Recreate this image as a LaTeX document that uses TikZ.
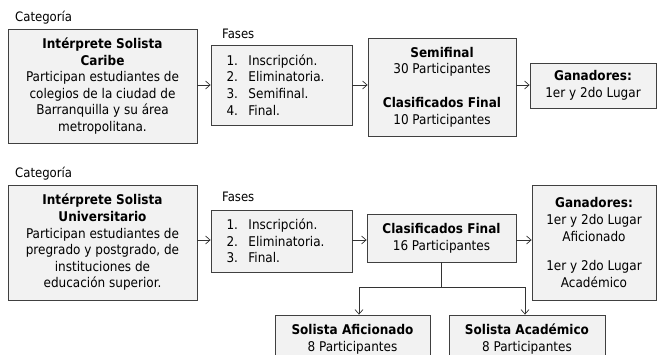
\documentclass[tikz,border=0pt]{standalone}
\usepackage{fontspec}
\usetikzlibrary{arrows.meta}
\setmainfont{DejaVu Sans Condensed}
\begin{document}
\begin{tikzpicture}[x=1pt,y=-1pt,
  box/.style={draw=black!75, line width=0.8pt, fill=black!5, inner sep=0pt, align=center,
    font=\fontsize{13.4}{16.6}\selectfont},
  lbl/.style={anchor=west, inner sep=0pt, font=\fontsize{13}{14}\selectfont},
  arr/.style={-{Straight Barb[length=4.5pt,width=8pt,line width=0.7pt]}, line width=0.7pt, draw=black!80}]
\useasboundingbox (0,0) rectangle (659,354);
\clip (0,0) rectangle (659,354);
% Row 1
\node[lbl] (cat1) at (15,18) {Categoría};
\node[box, minimum width=189pt, minimum height=114pt] (A) at (102.5,86)
  {\textbf{Intérprete Solista}\\\textbf{Caribe}\\Participan estudiantes de\\colegios de la ciudad de\\Barranquilla y su área\\metropolitana.};
\node[lbl] (fas1) at (222,34) {Fases};
\node[box, minimum width=141pt, minimum height=80pt, text width=110pt, align=left] (B) at (281.5,85)
  {\makebox[22pt][l]{1.}Inscripción.\\\makebox[22pt][l]{2.}Eliminatoria.\\\makebox[22pt][l]{3.}Semifinal.\\\makebox[22pt][l]{4.}Final.};
\node[box, minimum width=148pt, minimum height=98pt] (C) at (442,87)
  {\textbf{Semifinal}\\30 Participantes\\[17pt]\textbf{Clasificados Final}\\10 Participantes};
\node[box, minimum width=126pt, minimum height=45pt] (D) at (593,85.5)
  {\textbf{Ganadores:}\\1er y 2do Lugar};
\draw[arr] (A.east |- 0,85) -- (B.west |- 0,85);
\draw[arr] (B.east |- 0,85) -- (C.west |- 0,85);
\draw[arr] (C.east |- 0,85) -- (D.west |- 0,85);
% Row 2
\node[lbl] (cat2) at (15,174) {Categoría};
\node[box, minimum width=189pt, minimum height=115pt] (E) at (102.5,242.5)
  {\textbf{Intérprete Solista}\\\textbf{Universitario}\\Participan estudiantes de\\pregrado y postgrado, de\\instituciones de\\educación superior.};
\node[lbl] (fas2) at (222,197) {Fases};
\node[box, minimum width=141pt, minimum height=62pt, text width=110pt, align=left] (F) at (281.5,241)
  {\makebox[22pt][l]{1.}Inscripción.\\\makebox[22pt][l]{2.}Eliminatoria.\\\makebox[22pt][l]{3.}Final.};
\node[box, minimum width=149pt, minimum height=48pt] (G) at (441.5,238)
  {\textbf{Clasificados Final}\\16 Participantes};
\node[box, minimum width=124pt, minimum height=115pt] (H) at (594,242.5)
  {\textbf{Ganadores:}\\1er y 2do Lugar\\Aficionado\\[13pt]1er y 2do Lugar\\Académico};
\node[box, minimum width=155pt, minimum height=48pt] (I) at (352.5,339)
  {\textbf{Solista Aficionado}\\8 Participantes};
\node[box, minimum width=156pt, minimum height=48pt] (J) at (527,339)
  {\textbf{Solista Académico}\\8 Participantes};
\draw[arr] (E.east |- 0,240) -- (F.west |- 0,240);
\draw[arr] (F.east |- 0,240) -- (G.west |- 0,240);
\draw[arr] (G.east |- 0,240) -- (H.west |- 0,240);
\coordinate (split) at (G.south |- 0,287);
\draw[line width=0.7pt, draw=black!80] (G.south) -- (split);
\draw[arr] (split) -| ([xshift=6.5pt]I.north);
\draw[arr] (split) -| ([xshift=-2pt]J.north);
\end{tikzpicture}
\end{document}
